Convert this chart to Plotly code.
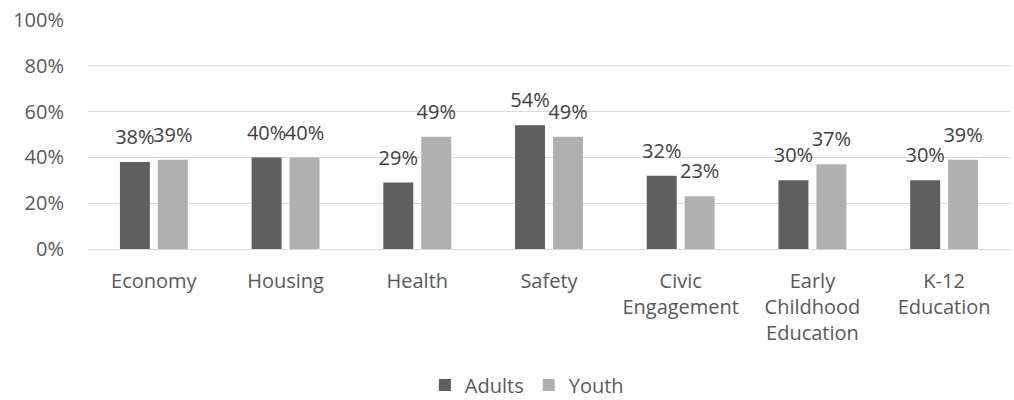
import plotly.graph_objects as go

categories = ["Economy", "Housing", "Health", "Safety", "Civic<br>Engagement",
              "Early<br>Childhood<br>Education", "K-12<br>Education"]
adults = [0.38, 0.40, 0.29, 0.54, 0.32, 0.30, 0.30]
youth = [0.39, 0.40, 0.49, 0.49, 0.23, 0.37, 0.39]
tick_vals = [0, 0.2, 0.4, 0.6, 0.8, 1.0]
tick_text = ["0%", "20%", "40%", "60%", "80%", "100%"]

FONT = "Open Sans"
FS = 20
GAP = 0.424
series = [("Adults", adults, "#5f5f5f"), ("Youth", youth, "#b0b0b0")]

fig = go.Figure()
for name, vals, color in series:
    fig.add_trace(go.Bar(
        name=name, x=categories, y=vals, marker_color=color, marker_line_width=0,
        offsetgroup=name, hoverinfo="skip",
    ))
for name, vals, color in series:
    fig.add_trace(go.Scatter(
        x=categories, y=vals, mode="markers+text", offsetgroup=name,
        text=[f"{round(v*100)}%" for v in vals], textposition="top center",
        textfont=dict(family=FONT, size=FS, color="#404040"),
        marker=dict(size=19, color="rgba(0,0,0,0)"),
        showlegend=False, hoverinfo="skip", cliponaxis=False,
    ))

fig.update_layout(
    width=1014, height=400,
    margin=dict(l=88, r=4, t=20, b=151),
    plot_bgcolor="white", paper_bgcolor="white",
    barmode="group", bargap=GAP, bargroupgap=0.21,
    scattermode="group", scattergap=GAP,
    font=dict(family=FONT, size=FS, color="#595959"),
    showlegend=True,
    legend=dict(orientation="h", x=0.476, xanchor="center", yref="container",
                y=0.0375, yanchor="middle", font=dict(size=FS, color="#595959"),
                itemwidth=30, traceorder="normal"),
)
fig.update_yaxes(range=[0, 1], tickvals=tick_vals, ticktext=tick_text,
                 showgrid=True, gridcolor="#d9d9d9", gridwidth=1,
                 zeroline=True, zerolinecolor="#d9d9d9", zerolinewidth=1,
                 showline=False, ticks="", ticklabelstandoff=23)
fig.update_xaxes(showgrid=False, showline=False, ticks="", ticklabelstandoff=18)
fig.write_html("out.html")
